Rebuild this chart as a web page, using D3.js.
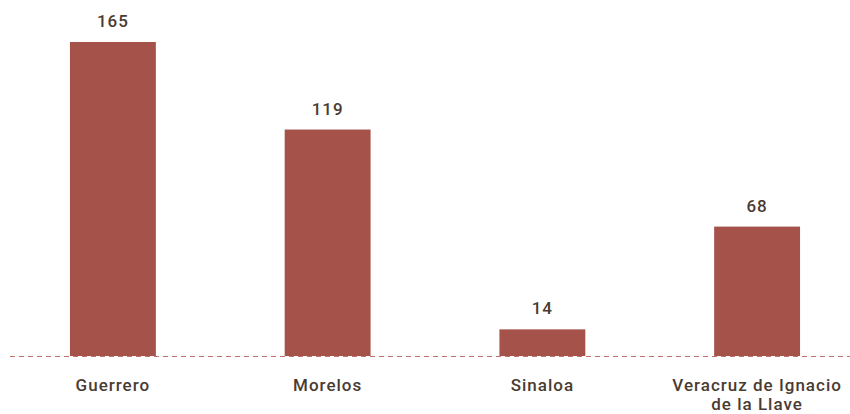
<!DOCTYPE html>
<html><head><meta charset="utf-8">
<script src="https://cdn.jsdelivr.net/npm/d3@7"></script>
<style>body{margin:0;background:#fff}svg{display:block}text{font-family:Roboto,"Noto Sans",sans-serif}</style>
</head><body>
<svg id="c" width="850" height="414"></svg>
<script>
const categories = ["Guerrero", "Morelos", "Sinaloa", "Veracruz de Ignacio de la Llave"];
const labelLines = [["Guerrero"], ["Morelos"], ["Sinaloa"], ["Veracruz de Ignacio", "de la Llave"]];
const values = [165, 119, 14, 68];

const svg = d3.select("#c");
const baseY = 356;
const x = d3.scaleBand().domain(categories).range([27, 843]).paddingInner(0.6).paddingOuter(0.2);
const y = d3.scaleLinear().domain([0, 165]).range([baseY, 42]);

svg.selectAll("rect.bar").data(values).enter().append("rect")
  .attr("class", "bar")
  .attr("x", (d, i) => x(categories[i]))
  .attr("width", x.bandwidth())
  .attr("y", d => y(d))
  .attr("height", d => baseY - y(d))
  .attr("fill", "#a5524a");

svg.append("line").attr("x1", 10).attr("x2", 850).attr("y1", baseY + 0.5).attr("y2", baseY + 0.5)
  .attr("stroke", "#c0716a").attr("stroke-width", 1.2).attr("stroke-dasharray", "5,4");

svg.selectAll("text.val").data(values).enter().append("text")
  .attr("class", "val")
  .attr("x", (d, i) => x(categories[i]) + x.bandwidth() / 2)
  .attr("y", d => y(d) - 15)
  .attr("text-anchor", "middle")
  .attr("font-size", 17).attr("font-weight", 500).attr("letter-spacing", 1).attr("fill", "#4a3b31")
  .text(d => d);

const cat = svg.selectAll("text.cat").data(categories).enter().append("text")
  .attr("class", "cat")
  .attr("x", d => x(d) + x.bandwidth() / 2)
  .attr("y", 391)
  .attr("text-anchor", "middle")
  .attr("font-size", 17).attr("font-weight", 500).attr("letter-spacing", 1).attr("fill", "#4a3b31");
cat.each(function(d, i) {
  const t = d3.select(this);
  labelLines[i].forEach((ln, j) => {
    t.append("tspan").attr("x", x(d) + x.bandwidth() / 2).attr("dy", j === 0 ? 0 : 19).text(ln);
  });
});
</script>
</body></html>
